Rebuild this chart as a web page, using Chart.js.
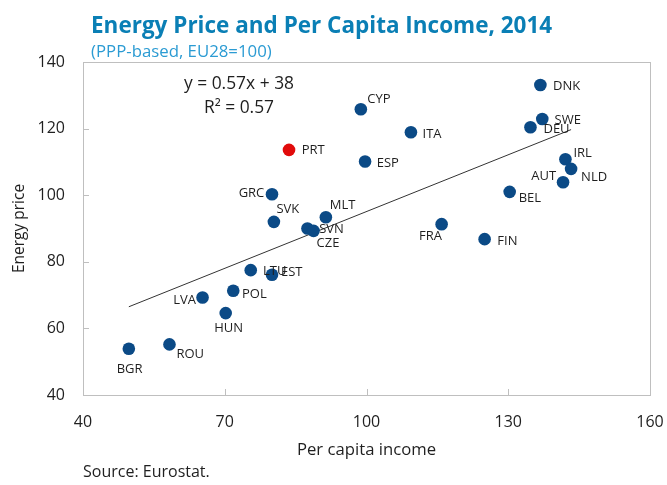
<!DOCTYPE html>
<html>
<head>
<meta charset="utf-8">
<title>Energy Price and Per Capita Income, 2014</title>
<script src="https://cdn.jsdelivr.net/npm/chart.js@4/dist/chart.umd.min.js"></script>
<style>
  html, body { margin: 0; padding: 0; background: #fff; }
  #wrap { position: relative; width: 667px; height: 485px; font-family: "Open Sans", sans-serif; color: #1f1f1f; }
  #chart { position: absolute; left: 0; top: 0; }
  .txt { position: absolute; white-space: nowrap; }
  #title { left: 91px; top: 11.5px; font-size: 22.5px; line-height: 26px; font-weight: bold; color: #0a7fb5; }
  #subtitle { left: 91px; top: 41px; font-size: 16.8px; line-height: 20px; color: #2b9bd3; }
  #eq { left: 150px; top: 70px; width: 178px; text-align: center; font-size: 17.4px; line-height: 24px; }
  #source { left: 83px; top: 461px; font-size: 16px; line-height: 20px; }
</style>
</head>
<body>
<div id="wrap">
  <canvas id="chart" width="667" height="485"></canvas>
  <div class="txt" id="title">Energy Price and Per Capita Income, 2014</div>
  <div class="txt" id="subtitle">(PPP-based, EU28=100)</div>
  <div class="txt" id="eq">y = 0.57x + 38<br>R² = 0.57</div>
  <div class="txt" id="source">Source: Eurostat.</div>
</div>
<script>
'use strict';

// data
var countries = ['BGR', 'ROU', 'LVA', 'HUN', 'POL', 'LTU', 'EST', 'SVK', 'GRC', 'SVN', 'CZE', 'MLT', 'PRT',
  'CYP', 'ESP', 'ITA', 'FRA', 'FIN', 'BEL', 'DEU', 'DNK', 'SWE', 'AUT', 'IRL', 'NLD'];
var income = [49.7, 58.3, 65.3, 70.2, 71.8, 75.5, 80.0, 80.4, 80.0, 87.5, 88.8, 91.4, 83.6,
  98.8, 99.7, 109.4, 115.9, 125.0, 130.3, 134.7, 136.8, 137.2, 141.6, 142.1, 143.3];
var energyPrice = [53.9, 55.2, 69.3, 64.6, 71.3, 77.5, 76.1, 92.0, 100.3, 90.0, 89.3, 93.4, 113.6,
  125.8, 110.1, 118.9, 91.3, 86.8, 101.0, 120.4, 133.1, 122.9, 103.9, 110.8, 107.9];
var highlighted = 'PRT';

// fitted line, ends
var trendX = [49.7, 143.3];
var trendY = [66.5, 119.7];

var xTicks = [40, 70, 100, 130, 160];
var yTicks = [40, 60, 80, 100, 120, 140];

// where each country label sits relative to its dot: [dx, dy, align]
var labelPlacement = {
  CYP: [6.5, -10, 'left'], PRT: [12.7, 0.7, 'left'], ESP: [11.6, 1.6, 'left'], GRC: [-7.7, -1, 'right'],
  SVK: [2.6, -12.4, 'left'], MLT: [4, -11.6, 'left'], SVN: [11.7, 1, 'left'], CZE: [3, 12, 'left'],
  ITA: [11.6, 1.7, 'left'], DNK: [12.6, 1, 'left'], SWE: [12.3, 1, 'left'], DEU: [13, 2, 'left'],
  IRL: [8, -6, 'left'], NLD: [10, 8.3, 'left'], AUT: [-7, -5.6, 'right'], BEL: [9, 6, 'left'],
  FRA: [0.4, 11.7, 'right'], FIN: [12.7, 1.7, 'left'], LTU: [12.3, 1, 'left'], EST: [9, -2.4, 'left'],
  POL: [8.7, 3.6, 'left'], LVA: [-6.6, 2.7, 'right'], HUN: [3, 15.3, 'center'], BGR: [0.8, 20.3, 'center'],
  ROU: [7, 9.7, 'left']
};

var BLUE = '#0b4a86';
var RED = '#e10b0b';
var AXIS = '#bfbfbf';
var FONT = '"Open Sans", sans-serif';

var buildPoints = function(xs, ys){
  var pts = [];
  xs.forEach((x, i) => { pts.push({x: x, y: ys[i]}); });
  return pts;
};

// box round the plot plus short ticks pointing inward
var frameTicks = {
  id: 'frameTicks',
  beforeDatasetsDraw: function(chart){
    var ctx = chart.ctx;
    var a = chart.chartArea;
    var sx = chart.scales.x;
    var sy = chart.scales.y;
    ctx.save();
    ctx.strokeStyle = AXIS;
    ctx.lineWidth = 1;
    ctx.strokeRect(Math.round(a.left) + 0.5, Math.round(a.top) + 0.5,
      Math.round(a.right - a.left), Math.round(a.bottom - a.top));
    ctx.beginPath();
    xTicks.forEach(v => {
      var px = Math.round(sx.getPixelForValue(v)) + 0.5;
      ctx.moveTo(px, a.bottom);
      ctx.lineTo(px, a.bottom - 6);
    });
    yTicks.forEach(v => {
      var py = Math.round(sy.getPixelForValue(v)) + 0.5;
      ctx.moveTo(a.left, py);
      ctx.lineTo(a.left + 6, py);
    });
    ctx.stroke();
    ctx.restore();
  }
};

var pointLabels = {
  id: 'pointLabels',
  afterDatasetsDraw: function(chart){
    var ctx = chart.ctx;
    var meta = chart.getDatasetMeta(1);
    ctx.save();
    ctx.font = '13px ' + FONT;
    ctx.fillStyle = '#1f1f1f';
    ctx.textBaseline = 'middle';
    meta.data.forEach((el, i) => {
      var name = countries[i];
      var p = labelPlacement[name] || [8, 0, 'left'];
      ctx.textAlign = p[2];
      ctx.fillText(name, el.x + p[0], el.y + p[1]);
    });
    ctx.restore();
  }
};

var createChart = function(){
  var canvas = document.getElementById('chart');
  return new Chart(canvas, {
    type: 'scatter',
    data: {
      datasets: [{
        label: 'Trend',
        data: buildPoints(trendX, trendY),
        showLine: true,
        borderColor: '#333',
        borderWidth: 1,
        pointRadius: 0,
        order: 2
      }, {
        label: 'Countries',
        data: buildPoints(income, energyPrice),
        backgroundColor: countries.map(c => c === highlighted ? RED : BLUE),
        borderWidth: 0,
        pointRadius: 6.3,
        pointHoverRadius: 6.3,
        order: 1
      }]
    },
    options: {
      responsive: false,
      animation: false,
      events: [],
      layout: { padding: { left: 0, top: 62, right: 17, bottom: 0 } },
      plugins: {
        legend: { display: false },
        tooltip: { enabled: false }
      },
      scales: {
        x: {
          type: 'linear',
          min: 40,
          max: 160,
          afterFit: function(scale){
            scale.height = 90;
            scale.paddingLeft = 0;
            scale.paddingRight = 0;
          },
          afterBuildTicks: function(scale){ scale.ticks = xTicks.map(v => ({value: v})); },
          grid: { display: false, drawTicks: false },
          border: { display: false },
          ticks: { padding: 18, color: '#1f1f1f', font: { family: FONT, size: 16 } },
          title: {
            display: true,
            text: 'Per capita income',
            color: '#1f1f1f',
            font: { family: FONT, size: 16.7 },
            padding: { top: 0, bottom: 25 }
          }
        },
        y: {
          type: 'linear',
          min: 40,
          max: 140,
          afterFit: function(scale){
            scale.width = 83;
            scale.paddingTop = 0;
            scale.paddingBottom = 0;
          },
          afterBuildTicks: function(scale){ scale.ticks = yTicks.map(v => ({value: v})); },
          grid: { display: false, drawTicks: false },
          border: { display: false },
          ticks: { padding: 18, color: '#1f1f1f', font: { family: FONT, size: 16 } },
          title: {
            display: true,
            text: 'Energy price',
            color: '#1f1f1f',
            font: { family: FONT, size: 15.5 },
            padding: { top: 10, bottom: 0 }
          }
        }
      }
    },
    plugins: [frameTicks, pointLabels]
  });
};

!function(){
  createChart();
}();
</script>
</body>
</html>
